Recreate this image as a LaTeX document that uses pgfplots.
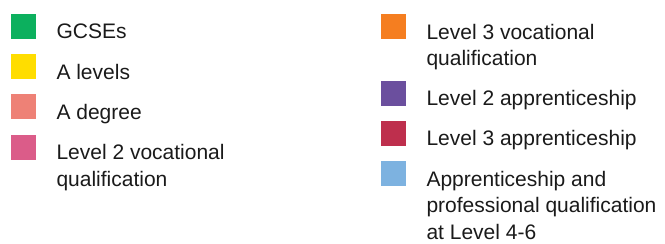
\documentclass[border=0pt]{standalone}
\usepackage{fontspec}
\setmainfont{Liberation Sans}
\usepackage{pgfplots}
\pgfplotsset{compat=1.18}
\definecolor{cGCSE}{HTML}{0CB05E}
\definecolor{cAlev}{HTML}{FFDD00}
\definecolor{cDeg}{HTML}{EE8176}
\definecolor{cLtwoV}{HTML}{DB5C89}
\definecolor{cLthreeV}{HTML}{F57E20}
\definecolor{cLtwoA}{HTML}{6B4F9E}
\definecolor{cLthreeA}{HTML}{BE2F4D}
\definecolor{cProf}{HTML}{7DB2E0}
\definecolor{txt}{HTML}{1A1A1A}
\newcommand\dd{\rule[-5pt]{0pt}{0pt}}
\pgfplotsset{
  sqtwo/.style={legend image code/.code={\fill[##1] (0pt,26.5pt) rectangle (25pt,51.5pt);}},
  sqthree/.style={legend image code/.code={\fill[##1] (0pt,53pt) rectangle (25pt,78pt);}},
  legcol/.style={
  scale only axis, width=665pt, height=244pt, hide axis,
  xmin=0, xmax=665, ymin=0, ymax=244,
  at={(0pt,0pt)}, anchor=south west,
  legend image code/.code={\fill[##1] (0pt,0pt) rectangle (25pt,25pt);},
  legend style={draw=none, fill=none, inner sep=0pt, outer sep=0pt,
    row sep=11.7pt, column sep=18.5pt,
    font=\fontsize{21}{26.5}\selectfont, text=txt,
    cells={anchor=base west, align=left, inner sep=0pt},
    anchor=north west},
}}
\begin{document}
\begin{tikzpicture}
\useasboundingbox (0,0) rectangle (665pt,244pt);
\begin{axis}[legcol, legend style={at={(0.016541,0.942623)}}]
\addlegendimage{fill=cGCSE, draw=none}
\addlegendentry{GCSEs\dd}
\addlegendimage{fill=cAlev, draw=none}
\addlegendentry{A levels\dd}
\addlegendimage{fill=cDeg, draw=none}
\addlegendentry{A degree\dd}
\addlegendimage{fill=cLtwoV, draw=none, sqtwo}
\addlegendentry{Level 2 vocational\\qualification\dd}
\end{axis}
\begin{axis}[legcol, legend style={at={(0.572932,0.942623)}}]
\addlegendimage{fill=cLthreeV, draw=none, sqtwo}
\addlegendentry{Level 3 vocational\\qualification\dd}
\addlegendimage{fill=cLtwoA, draw=none}
\addlegendentry{Level 2 apprenticeship\dd}
\addlegendimage{fill=cLthreeA, draw=none}
\addlegendentry{Level 3 apprenticeship\dd}
\addlegendimage{fill=cProf, draw=none, sqthree}
\addlegendentry{Apprenticeship and\\professional qualification\\at Level 4-6\dd}
\end{axis}
\end{tikzpicture}
\end{document}
